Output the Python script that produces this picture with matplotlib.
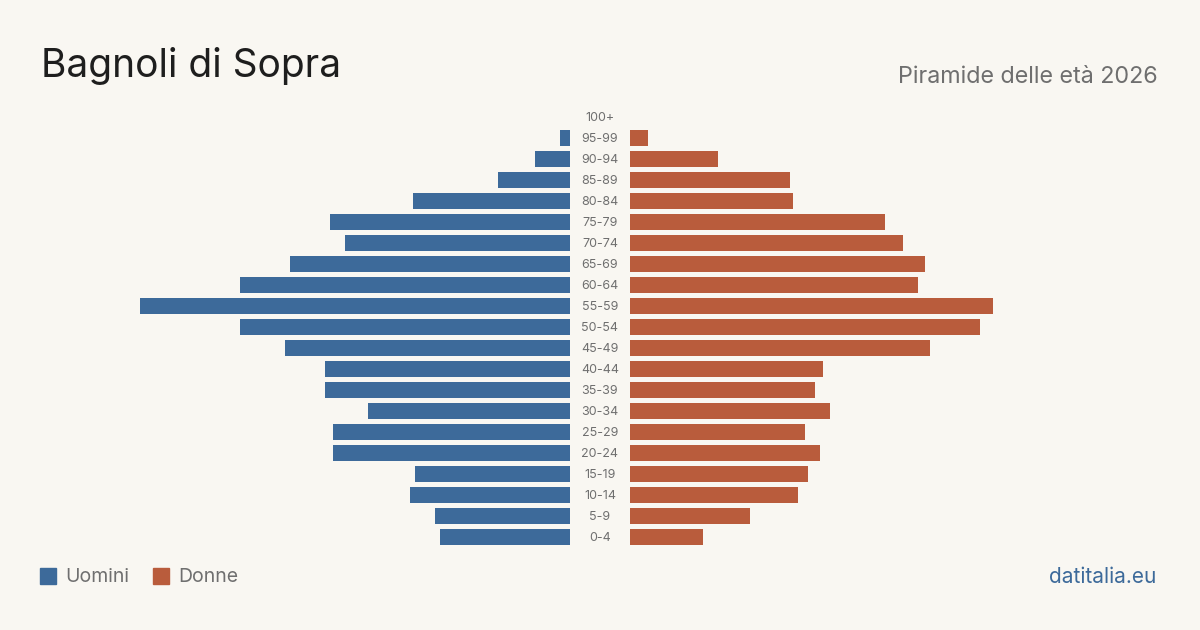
import matplotlib.pyplot as plt
import matplotlib.patches as mpatches

plt.rcParams['font.family'] = ['Inter', 'DejaVu Sans']

ages = ['100+', '95-99', '90-94', '85-89', '80-84', '75-79', '70-74', '65-69',
        '60-64', '55-59', '50-54', '45-49', '40-44', '35-39', '30-34',
        '25-29', '20-24', '15-19', '10-14', '5-9', '0-4']
uomini = [0, 4, 14, 29, 63, 96, 90, 112, 132, 172, 132, 114, 98, 98, 81,
          95, 95, 62, 64, 54, 52]
donne = [0, 7, 35, 64, 65, 102, 109, 118, 115, 145, 140, 120, 77, 74, 80,
         70, 76, 71, 67, 48, 29]

bg = '#f9f7f2'
blue = '#3d6a9a'
orange = '#b95c3c'

W, H = 1200, 630
fig = plt.figure(figsize=(12, 6.3), dpi=100, facecolor=bg)

# axes placed in pixel terms: left bars end at x=570, right start at x=630
px = 2.5  # pixels per person
y_top, y_bot = 106.5, 547.5
bottom = (H - y_bot) / H
height = (y_bot - y_top) / H
ax_l = fig.add_axes([40 / W, bottom, 530 / W, height])
ax_r = fig.add_axes([630 / W, bottom, 530 / W, height])

ypos = list(range(len(ages)))
ax_l.barh(ypos, uomini, height=0.8, color=blue)
ax_r.barh(ypos, donne, height=0.8, color=orange)
ax_l.set_xlim(530 / px, 0)
ax_r.set_xlim(0, 530 / px)
for ax in (ax_l, ax_r):
    ax.set_ylim(len(ages) - 0.5, -0.5)
    ax.axis('off')
    ax.set_facecolor('none')

for i, a in enumerate(ages):
    fig.text(600 / W, 1 - (118 + 21 * i) / H, a, ha='center', va='center',
             fontsize=9, color='#6f6f6f')

fig.text(41 / W, 1 - 66 / H, 'Bagnoli di Sopra', fontsize=28, color='#1e1e1e',
         ha='left', va='center')
fig.text(1158 / W, 1 - 77 / H, 'Piramide delle età 2026', fontsize=16.8,
         color='#6f6f6f', ha='right', va='center')

# legend
fig.patches.append(mpatches.Rectangle((40 / W, 1 - 584 / H), 16 / W, 16 / H,
                                      transform=fig.transFigure, color=blue))
fig.text(65 / W, 1 - 577 / H, 'Uomini', fontsize=14, color='#6f6f6f',
         ha='left', va='center')
fig.patches.append(mpatches.Rectangle((153 / W, 1 - 584 / H), 16 / W, 16 / H,
                                      transform=fig.transFigure, color=orange))
fig.text(178 / W, 1 - 577 / H, 'Donne', fontsize=14, color='#6f6f6f',
         ha='left', va='center')
fig.text(1156 / W, 1 - 577 / H, 'datitalia.eu', fontsize=15, color='#3d6a9a',
         ha='right', va='center')

fig.savefig('out.png', dpi=100, facecolor=bg)
